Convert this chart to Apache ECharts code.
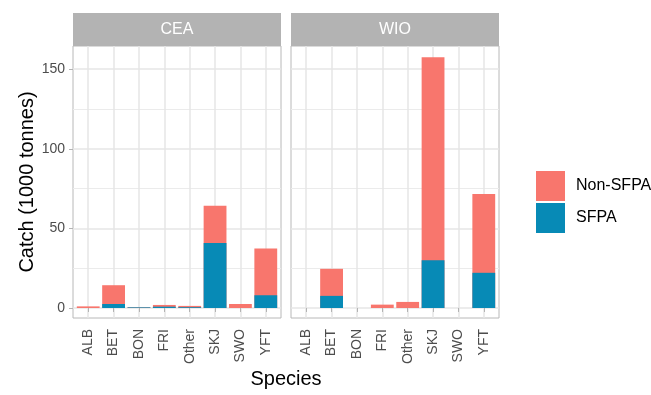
<!DOCTYPE html>
<html>
<head>
<meta charset="utf-8">
<script src="https://cdn.jsdelivr.net/npm/echarts@6/dist/echarts.min.js"></script>
<style>
html,body{margin:0;padding:0;background:#fff;}
#chart{width:651px;height:395px;}
</style>
</head>
<body>
<div id="chart"></div>
<script>
const species = ['ALB', 'BET', 'BON', 'FRI', 'Other', 'SKJ', 'SWO', 'YFT'];
const regions = ['CEA', 'WIO'];
const seriesNames = ['Non-SFPA', 'SFPA'];
const ceaSFPA    = [0,   2.5, 0.4, 0.8, 0.5, 40.8, 0,   8.0];
const ceaNonSFPA = [1.0, 11.8, 0,  1.1, 0.8, 23.5, 2.5, 29.4];
const wioSFPA    = [0,   7.6, 0,   0,   0,   30.0, 0,   22.1];
const wioNonSFPA = [0,  17.0, 0,   2.1, 3.8, 127.6, 0,  49.5];
const yTicks = [0, 50, 100, 150];
const yMinorTicks = [25, 75, 125];
const yTitle = 'Catch (1000 tonnes)';
const xTitle = 'Species';

const FONT = '"Liberation Sans", Arial, sans-serif';
const COLORS = {'Non-SFPA': '#F8766D', 'SFPA': '#078AB6'};
const panelLeft = [73, 291];
const panelW = 208, panelTop = 46, panelH = 272;
const stripTop = 13, stripH = 33;
const yMin = -6.3, yMax = 164.6;
const xPos = species.map((s, i) => i + 1);
const regionData = [[ceaSFPA, ceaNonSFPA], [wioSFPA, wioNonSFPA]];

const grids = [], xAxes = [], yAxes = [], series = [], graphics = [];
regions.forEach((r, i) => {
  grids.push({left: panelLeft[i], top: panelTop, width: panelW, height: panelH,
    show: true, backgroundColor: '#fff', borderColor: '#B8B8B8', borderWidth: 1});
  xAxes.push({
    type: 'value', gridIndex: i, min: 0.4, max: 8.6,
    axisLine: {show: false},
    axisTick: {show: true, customValues: xPos, length: 4, lineStyle: {color: '#B3B3B3', width: 1}},
    axisLabel: {customValues: xPos, formatter: v => species[Math.round(v) - 1] || '',
      rotate: 90, fontSize: 14, color: '#4D4D4D', margin: 11, fontFamily: FONT},
    splitLine: {show: true, lineStyle: {color: '#E6E6E6', width: 1.5}}
  });
  yAxes.push({
    type: 'value', gridIndex: i, min: yMin, max: yMax,
    axisLine: {show: false},
    axisTick: {show: i === 0, customValues: yTicks, length: 4, lineStyle: {color: '#B3B3B3', width: 1}},
    axisLabel: {show: i === 0, customValues: yTicks, fontSize: 14, color: '#4D4D4D', margin: 8, fontFamily: FONT},
    splitLine: {show: true, lineStyle: {color: '#E6E6E6', width: 1.5}},
    name: i === 0 ? yTitle : '', nameLocation: 'middle', nameGap: 34,
    nameTextStyle: {fontSize: 20, color: '#000', fontFamily: FONT}
  });
  graphics.push({type: 'rect', shape: {x: panelLeft[i], y: stripTop, width: panelW, height: stripH},
    style: {fill: '#B3B3B3'}, silent: true});
  graphics.push({type: 'text', x: panelLeft[i] + panelW / 2, y: stripTop + stripH / 2,
    style: {text: r, fill: '#fff', font: '16px ' + FONT, textAlign: 'center', textVerticalAlign: 'middle'}});
});
regions.forEach((r, i) => {
  yAxes.push({
    type: 'value', gridIndex: i, min: yMin, max: yMax, position: 'left',
    axisLine: {show: false},
    axisTick: {show: false, customValues: yMinorTicks},
    axisLabel: {show: false, customValues: yMinorTicks},
    splitLine: {show: true, lineStyle: {color: '#EBEBEB', width: 1}}
  });
});
// Stacked bars: the Non-SFPA bar spans from 0 to (SFPA + Non-SFPA); the SFPA bar is drawn over its lower part.
regions.forEach((r, i) => {
  const [sf, nsf] = regionData[i];
  series.push({name: 'Non-SFPA', type: 'bar', xAxisIndex: i, yAxisIndex: i,
    barWidth: '90%', barGap: '-100%', itemStyle: {color: COLORS['Non-SFPA']},
    data: nsf.map((v, j) => [xPos[j], v + sf[j]])});
  series.push({name: 'SFPA', type: 'bar', xAxisIndex: i, yAxisIndex: i,
    barWidth: '90%', barGap: '-100%', itemStyle: {color: COLORS['SFPA']},
    data: sf.map((v, j) => [xPos[j], v])});
});
graphics.push({type: 'text', x: (panelLeft[0] + panelLeft[1] + panelW) / 2, y: 379,
  style: {text: xTitle, fill: '#000', font: '20px ' + FONT, textAlign: 'center', textVerticalAlign: 'middle'}});

const chart = echarts.init(document.getElementById('chart'), null, {renderer: 'canvas'});
chart.setOption({
  animation: false,
  backgroundColor: '#fff',
  grid: grids, xAxis: xAxes, yAxis: yAxes, series: series,
  legend: {
    data: seriesNames, orient: 'vertical', left: 531, top: 166,
    itemWidth: 29, itemHeight: 30, itemGap: 2, icon: 'rect',
    textStyle: {fontSize: 16, color: '#000', fontFamily: FONT, padding: [0, 0, 0, 6]}
  },
  graphic: graphics
});
</script>
</body>
</html>
